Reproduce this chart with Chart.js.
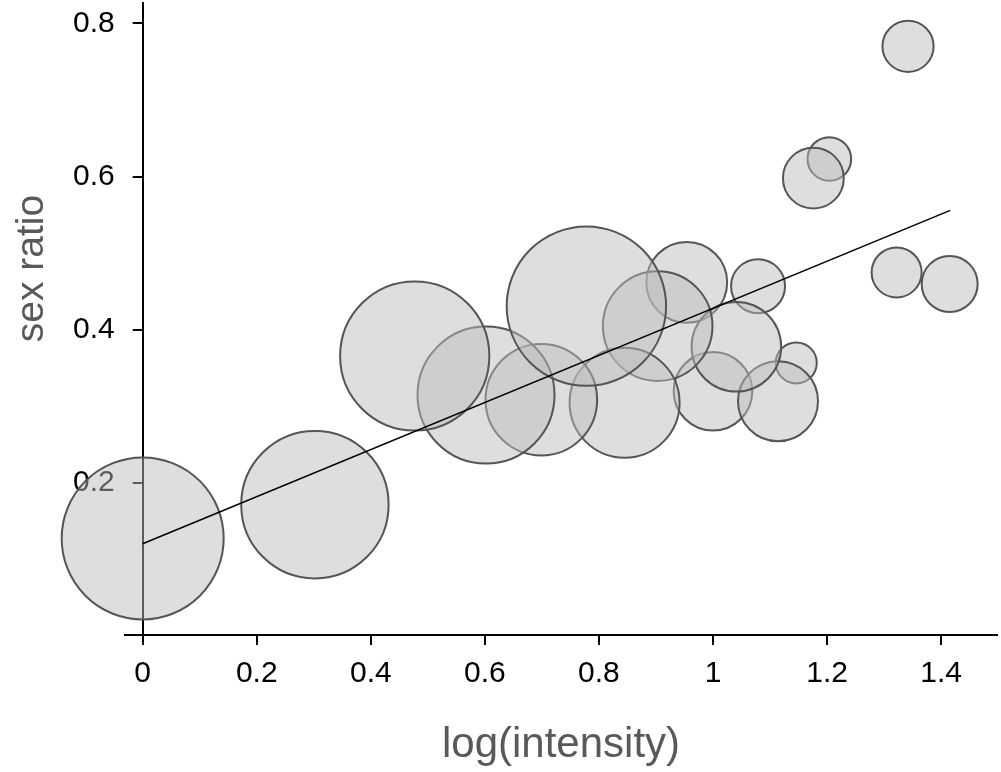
<!DOCTYPE html>
<html><head><meta charset="utf-8">
<script src="https://cdn.jsdelivr.net/npm/chart.js@4.4.1/dist/chart.umd.min.js"></script>
<style>html,body{margin:0;padding:0;background:#fff;} canvas{display:block;}</style>
</head><body>
<canvas id="c" width="1001" height="772"></canvas>
<script>
// Data (ordered as drawn: smaller bubbles first)
const logIntensity = [1.146, 1.204, 1.322, 1.342, 1.079, 1.415, 1.176, 1.000, 1.114, 0.954, 1.041, 0.903, 0.845, 0.699, 0.602, 0.302, 0.477, 0.778, 0.000];
const sexRatio     = [0.357, 0.623, 0.475, 0.770, 0.457, 0.460, 0.598, 0.320, 0.307, 0.462, 0.378, 0.405, 0.305, 0.309, 0.315, 0.172, 0.366, 0.431, 0.128];
const bubbleSize   = [20.5, 21.8, 25, 25.6, 27, 28, 30.4, 39.3, 40, 40.4, 44.8, 54.8, 55, 55.8, 68.5, 73.7, 74.6, 79.7, 81];
const fitX = [0, 1.416];
const fitY = [0.121, 0.556];
const xTicks = [0, 0.2, 0.4, 0.6, 0.8, 1, 1.2, 1.4];
const yTicks = [0.2, 0.4, 0.6, 0.8];
const yAxisAtX = 0;
const xTitle = 'log(intensity)';
const yTitle = 'sex ratio';

const FONT = "'Liberation Sans', Arial, Helvetica, sans-serif";

const bubbles = logIntensity.map((x, i) => ({x: x, y: sexRatio[i], r: bubbleSize[i]}));
const fitLine = fitX.map((x, i) => ({x: x, y: fitY[i]}));

// Move the y axis so that it crosses the x axis at x = yAxisAtX
const crossAxisPlugin = {
  id: 'crossAxis',
  afterLayout(chart) {
    const xs = chart.scales.x, ys = chart.scales.y;
    const d = xs.getPixelForValue(yAxisAtX) - ys.right;
    ys.left += d;
    ys.right += d;
  }
};

const yTitlePlugin = {
  id: 'yTitle',
  afterDraw(chart) {
    const ctx = chart.ctx;
    const ys = chart.scales.y;
    ctx.save();
    ctx.font = '39px ' + FONT;
    ctx.fillStyle = '#595959';
    ctx.textAlign = 'center';
    ctx.textBaseline = 'alphabetic';
    ctx.translate(43, ys.getPixelForValue(0.48));
    ctx.rotate(-Math.PI / 2);
    ctx.fillText(yTitle, 0, 0);
    ctx.restore();
  }
};

new Chart(document.getElementById('c'), {
  type: 'bubble',
  data: {
    datasets: [
      {
        type: 'line',
        order: 0,
        data: fitLine,
        borderColor: '#000',
        borderWidth: 1.5,
        pointRadius: 0,
        fill: false,
        clip: false
      },
      {
        type: 'bubble',
        order: 1,
        data: bubbles,
        backgroundColor: 'rgba(187,187,187,0.49)',
        borderColor: '#555555',
        borderWidth: 2,
        clip: false
      }
    ]
  },
  options: {
    responsive: false,
    animation: false,
    events: [],
    layout: { autoPadding: false, padding: { left: 0, right: 4, top: 3, bottom: 0 } },
    plugins: { legend: { display: false }, tooltip: { enabled: false } },
    scales: {
      x: {
        type: 'linear',
        position: 'bottom',
        min: -0.031,
        max: 1.498,
        afterBuildTicks: (s) => { s.ticks = xTicks.map(v => ({value: v})); },
        afterFit: (s) => { s.height = 137; s.paddingLeft = 0; s.paddingRight = 0; },
        ticks: {
          color: '#000',
          font: { family: FONT, size: 30 },
          padding: 11,
          maxRotation: 0,
          autoSkip: false,
          callback: (v) => String(v)
        },
        grid: { drawOnChartArea: false, drawTicks: true, tickLength: 10, color: '#000', lineWidth: 2 },
        border: { display: true, color: '#000', width: 2 },
        title: {
          display: true,
          text: xTitle,
          color: '#595959',
          font: { family: FONT, size: 42 },
          padding: { top: 0, bottom: 1 }
        }
      },
      y: {
        type: 'linear',
        position: 'left',
        min: 0.002,
        max: 0.8265,
        afterBuildTicks: (s) => { s.ticks = yTicks.map(v => ({value: v})); },
        afterFit: (s) => { s.width = 125; s.paddingTop = 0; s.paddingBottom = 0; },
        ticks: {
          color: '#000',
          font: { family: FONT, size: 30 },
          padding: 18,
          autoSkip: false,
          callback: (v) => String(v)
        },
        grid: { drawOnChartArea: false, drawTicks: true, tickLength: 10, color: '#000', lineWidth: 2 },
        border: { display: true, color: '#000', width: 2 }
      }
    }
  },
  plugins: [crossAxisPlugin, yTitlePlugin]
});
</script>
</body></html>
